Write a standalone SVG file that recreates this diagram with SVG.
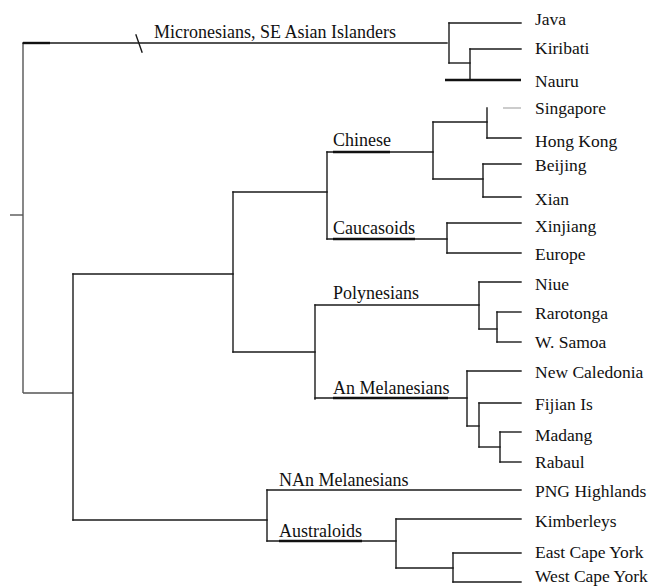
<svg xmlns="http://www.w3.org/2000/svg" width="659" height="587" viewBox="0 0 659 587">
<style>
.e{stroke:#1a1a1a;stroke-width:1.4;fill:none;stroke-linecap:square}
.t{stroke:#111;stroke-width:2.4;fill:none}
.f{stroke:#999;stroke-width:1;fill:none}
.g{stroke:#555;stroke-width:1.4;fill:none}
text{font-family:"Liberation Serif","Times New Roman",serif;fill:#111}
.lf{font-size:17.5px}
.in{font-size:18px}
</style>
<rect width="659" height="587" fill="#fff"/>
<g id="connectors">
<line class="g" x1="10" y1="215" x2="23" y2="215"/>
<line class="g" x1="23" y1="43" x2="23" y2="393"/>
<line class="e" x1="23" y1="43" x2="447" y2="43"/>
<line class="t" x1="23" y1="43" x2="50" y2="43"/>
<line class="e" x1="136" y1="35" x2="142" y2="52"/>
<line class="e" x1="449" y1="23" x2="449" y2="63"/>
<line class="e" x1="449" y1="23" x2="521" y2="23"/>
<line class="e" x1="449" y1="63" x2="470" y2="63"/>
<line class="e" x1="470" y1="49" x2="470" y2="80"/>
<line class="e" x1="470" y1="49" x2="521" y2="49"/>
<line class="t" x1="445" y1="80" x2="521" y2="80"/>
<line class="g" x1="23" y1="393" x2="73" y2="393"/>
<line class="e" x1="73" y1="274" x2="73" y2="520"/>
<line class="e" x1="73" y1="274" x2="233" y2="274"/>
<line class="e" x1="233" y1="192" x2="233" y2="352"/>
<line class="e" x1="233" y1="192" x2="327" y2="192"/>
<line class="e" x1="327" y1="152" x2="327" y2="239"/>
<line class="e" x1="327" y1="152" x2="433" y2="152"/>
<line class="t" x1="333" y1="152" x2="390" y2="152"/>
<line class="e" x1="433" y1="122" x2="433" y2="179"/>
<line class="e" x1="433" y1="122" x2="487" y2="122"/>
<line class="e" x1="487" y1="108" x2="487" y2="138"/>
<line class="f" x1="503" y1="108" x2="521" y2="108"/>
<line class="e" x1="487" y1="138" x2="521" y2="138"/>
<line class="e" x1="433" y1="179" x2="483" y2="179"/>
<line class="e" x1="483" y1="164" x2="483" y2="197"/>
<line class="e" x1="483" y1="164" x2="521" y2="164"/>
<line class="e" x1="483" y1="197" x2="521" y2="197"/>
<line class="e" x1="327" y1="239" x2="447" y2="239"/>
<line class="t" x1="333" y1="239" x2="415" y2="239"/>
<line class="e" x1="447" y1="223" x2="447" y2="253"/>
<line class="e" x1="447" y1="223" x2="521" y2="223"/>
<line class="e" x1="447" y1="253" x2="521" y2="253"/>
<line class="e" x1="233" y1="352" x2="315" y2="352"/>
<line class="e" x1="315" y1="305" x2="315" y2="399"/>
<line class="e" x1="315" y1="305" x2="479" y2="305"/>
<line class="e" x1="479" y1="282" x2="479" y2="329"/>
<line class="e" x1="479" y1="282" x2="521" y2="282"/>
<line class="e" x1="479" y1="329" x2="497" y2="329"/>
<line class="e" x1="497" y1="312" x2="497" y2="342"/>
<line class="e" x1="497" y1="312" x2="521" y2="312"/>
<line class="e" x1="497" y1="342" x2="521" y2="342"/>
<line class="e" x1="315" y1="398" x2="467" y2="398"/>
<line class="t" x1="333" y1="398" x2="448" y2="398"/>
<line class="e" x1="467" y1="371" x2="467" y2="426"/>
<line class="e" x1="467" y1="371" x2="521" y2="371"/>
<line class="e" x1="467" y1="426" x2="479" y2="426"/>
<line class="e" x1="479" y1="403" x2="479" y2="447"/>
<line class="e" x1="479" y1="403" x2="521" y2="403"/>
<line class="e" x1="479" y1="447" x2="500" y2="447"/>
<line class="e" x1="500" y1="432" x2="500" y2="462"/>
<line class="e" x1="500" y1="432" x2="521" y2="432"/>
<line class="e" x1="500" y1="462" x2="521" y2="462"/>
<line class="e" x1="73" y1="520" x2="267" y2="520"/>
<line class="e" x1="267" y1="490" x2="267" y2="541"/>
<line class="e" x1="267" y1="490" x2="521" y2="490"/>
<line class="e" x1="267" y1="541" x2="396" y2="541"/>
<line class="t" x1="279" y1="541" x2="362" y2="541"/>
<line class="e" x1="396" y1="519" x2="396" y2="568"/>
<line class="e" x1="396" y1="519" x2="521" y2="519"/>
<line class="e" x1="396" y1="568" x2="453" y2="568"/>
<line class="e" x1="453" y1="553" x2="453" y2="582"/>
<line class="e" x1="453" y1="553" x2="521" y2="553"/>
<line class="e" x1="453" y1="582" x2="521" y2="582"/>
</g>
<g id="clade-micronesians"><text class="in" x="154" y="38">Micronesians, SE Asian Islanders</text></g>
<g id="clade-chinese"><text class="in" x="333" y="146">Chinese</text></g>
<g id="clade-caucasoids"><text class="in" x="333" y="234">Caucasoids</text></g>
<g id="clade-polynesians"><text class="in" x="333" y="299">Polynesians</text></g>
<g id="clade-an-melanesians"><text class="in" x="333" y="394">An Melanesians</text></g>
<g id="clade-nan-melanesians"><text class="in" x="279" y="486">NAn Melanesians</text></g>
<g id="clade-australoids"><text class="in" x="279" y="537">Australoids</text></g>
<g id="leaf-java"><text class="lf" x="535" y="25">Java</text></g>
<g id="leaf-kiribati"><text class="lf" x="535" y="54">Kiribati</text></g>
<g id="leaf-nauru"><text class="lf" x="535" y="87">Nauru</text></g>
<g id="leaf-singapore"><text class="lf" x="535" y="114">Singapore</text></g>
<g id="leaf-hongkong"><text class="lf" x="535" y="147">Hong Kong</text></g>
<g id="leaf-beijing"><text class="lf" x="535" y="171">Beijing</text></g>
<g id="leaf-xian"><text class="lf" x="535" y="205">Xian</text></g>
<g id="leaf-xinjiang"><text class="lf" x="535" y="232">Xinjiang</text></g>
<g id="leaf-europe"><text class="lf" x="535" y="260">Europe</text></g>
<g id="leaf-niue"><text class="lf" x="535" y="290">Niue</text></g>
<g id="leaf-rarotonga"><text class="lf" x="535" y="319">Rarotonga</text></g>
<g id="leaf-wsamoa"><text class="lf" x="535" y="348">W. Samoa</text></g>
<g id="leaf-newcaledonia"><text class="lf" x="535" y="378">New Caledonia</text></g>
<g id="leaf-fijian"><text class="lf" x="535" y="410">Fijian Is</text></g>
<g id="leaf-madang"><text class="lf" x="535" y="441">Madang</text></g>
<g id="leaf-rabaul"><text class="lf" x="535" y="468">Rabaul</text></g>
<g id="leaf-png"><text class="lf" x="535" y="497">PNG Highlands</text></g>
<g id="leaf-kimberleys"><text class="lf" x="535" y="527">Kimberleys</text></g>
<g id="leaf-eastcapeyork"><text class="lf" x="535" y="558">East Cape York</text></g>
<g id="leaf-westcapeyork"><text class="lf" x="535" y="582">West Cape York</text></g>
</svg>
